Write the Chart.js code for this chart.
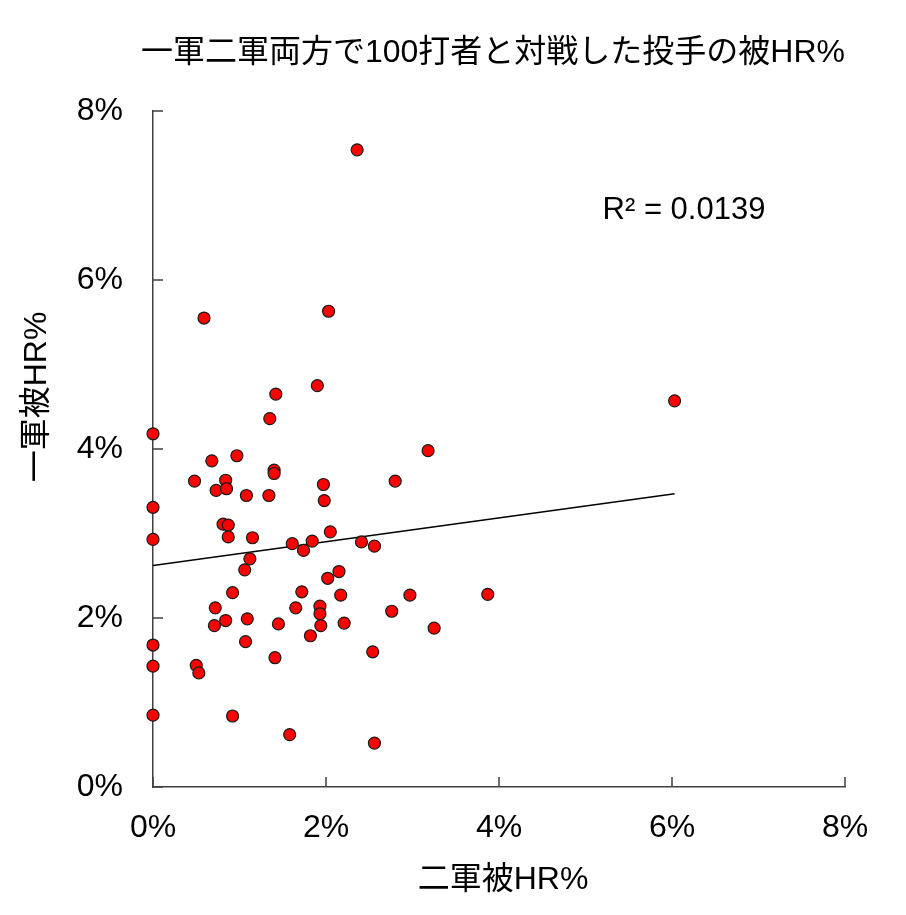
<!DOCTYPE html>
<html>
<head>
<meta charset="utf-8">
<script src="https://cdn.jsdelivr.net/npm/chart.js@4.4.1/dist/chart.umd.min.js"></script>
<style>
  html, body { margin: 0; padding: 0; background: #ffffff; }
  #wrap { width: 906px; height: 915px; }
</style>
</head>
<body>
<div id="wrap"><canvas id="c" width="906" height="915"></canvas></div>
<script>
// ---- data ----
const chartTitle = '一軍二軍両方で100打者と対戦した投手の被HR%';
const xAxisTitle = '二軍被HR%';
const yAxisTitle = '一軍被HR%';
const r2Label = 'R² = 0.0139';

// 二軍被HR% (x) and 一軍被HR% (y), in percent
const farmHR = [2.36,0.59,2.03,1.90,1.42,1.35,6.03,0,3.18,0.97,0.68,1.40,1.40,0.48,0.84,0.73,0.85,1.08,1.34,1.97,1.98,2.80,0,0.81,0.87,2.05,0.87,1.15,0,1.61,1.84,1.74,2.41,2.56,1.12,1.06,2.02,2.15,0.92,1.72,2.17,2.97,3.87,0.72,1.65,1.93,1.93,2.76,0.84,1.09,0.71,1.45,1.94,2.21,3.25,0,1.07,1.82,2.54,1.41,0,0.50,0.53,0,0.92,1.58,2.56];
const topHR  = [7.54,5.55,5.63,4.75,4.65,4.36,4.57,4.18,3.98,3.92,3.86,3.75,3.71,3.62,3.63,3.51,3.53,3.45,3.45,3.58,3.39,3.62,3.31,3.11,3.10,3.02,2.96,2.95,2.93,2.88,2.91,2.80,2.90,2.85,2.70,2.57,2.47,2.55,2.30,2.31,2.27,2.27,2.28,2.12,2.12,2.14,2.05,2.08,1.97,1.99,1.91,1.93,1.91,1.94,1.88,1.68,1.72,1.79,1.60,1.53,1.43,1.44,1.35,0.85,0.84,0.62,0.52];

// linear trend line endpoints
const trendX = [0, 6.03];
const trendY = [2.62, 3.47];

// axis ticks
const tickValues = [0, 2, 4, 6, 8];

// ---- build ----
const points = farmHR.map((x, i) => ({ x: x, y: topHR[i] }));
const trend = trendX.map((x, i) => ({ x: x, y: trendY[i] }));

const FONT_LATIN = '"Liberation Sans", Arial, "Noto Sans CJK JP", sans-serif';
const AXIS_COLOR = '#404040';

const decorPlugin = {
  id: 'decor',
  afterDraw(chart) {
    const ctx = chart.ctx;
    const xs = chart.scales.x, ys = chart.scales.y;
    const area = chart.chartArea;
    ctx.save();
    // inward tick marks
    ctx.strokeStyle = AXIS_COLOR;
    ctx.lineWidth = 1.5;
    ctx.beginPath();
    tickValues.forEach(v => {
      const px = xs.getPixelForValue(v);
      ctx.moveTo(px, area.bottom);
      ctx.lineTo(px, area.bottom - 10);
      const py = ys.getPixelForValue(v);
      ctx.moveTo(area.left, py);
      ctx.lineTo(area.left + 10, py);
    });
    ctx.stroke();

    ctx.fillStyle = '#000000';
    ctx.textAlign = 'center';
    ctx.textBaseline = 'middle';
    // chart title
    ctx.font = '32px ' + FONT_LATIN;
    ctx.fillText(chartTitle, 493, 53);
    // x axis title
    ctx.font = '32px ' + FONT_LATIN;
    ctx.fillText(xAxisTitle, 503, 880);
    // y axis title
    ctx.save();
    ctx.translate(37, 397);
    ctx.rotate(-Math.PI / 2);
    ctx.fillText(yAxisTitle, 0, 0);
    ctx.restore();
    // R squared
    ctx.font = '31px ' + FONT_LATIN;
    ctx.fillText(r2Label, 684, 210);
    ctx.restore();
  }
};

new Chart(document.getElementById('c'), {
  type: 'scatter',
  data: {
    datasets: [
      {
        label: 'points',
        data: points,
        backgroundColor: '#ff0000',
        borderColor: '#1a1a1a',
        borderWidth: 1.2,
        pointRadius: 6,
        pointHoverRadius: 6,
        clip: false,
        order: 1
      },
      {
        type: 'line',
        label: 'trend',
        data: trend,
        borderColor: '#000000',
        borderWidth: 1.5,
        pointRadius: 0,
        fill: false,
        tension: 0,
        order: 2
      }
    ]
  },
  options: {
    responsive: false,
    animation: false,
    devicePixelRatio: 1,
    layout: { padding: { top: 111, right: 61, left: 0, bottom: 0 } },
    plugins: {
      legend: { display: false },
      title: { display: false },
      tooltip: { enabled: false }
    },
    scales: {
      x: {
        type: 'linear',
        min: 0, max: 8,
        afterFit(scale) { scale.height = 128; },
        afterBuildTicks(scale) { scale.ticks = tickValues.map(v => ({ value: v })); },
        grid: { display: false },
        border: { display: true, color: AXIS_COLOR, width: 1.5 },
        ticks: {
          padding: 14,
          color: '#000000',
          font: { family: FONT_LATIN, size: 32 },
          callback: v => v + '%',
          maxRotation: 0
        }
      },
      y: {
        type: 'linear',
        min: 0, max: 8,
        afterFit(scale) { scale.width = 153; },
        afterBuildTicks(scale) { scale.ticks = tickValues.map(v => ({ value: v })); },
        grid: { display: false },
        border: { display: true, color: AXIS_COLOR, width: 1.5 },
        ticks: {
          padding: 22,
          color: '#000000',
          font: { family: FONT_LATIN, size: 32 },
          callback: v => v + '%'
        }
      }
    }
  },
  plugins: [decorPlugin]
});
</script>
</body>
</html>
